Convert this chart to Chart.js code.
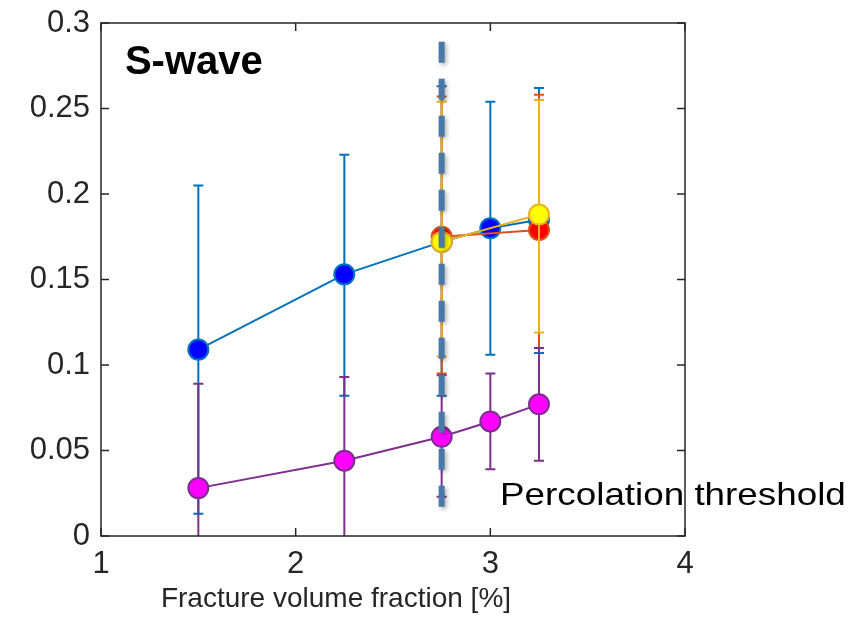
<!DOCTYPE html>
<html>
<head>
<meta charset="utf-8">
<script src="https://cdn.jsdelivr.net/npm/chart.js@4.4.0/dist/chart.umd.min.js"></script>
<style>
  html, body { margin: 0; padding: 0; background: #fff; }
</style>
</head>
<body>
<canvas id="chart" width="856" height="617"></canvas>
<script>
// x positions (fracture volume fraction, %)
const xAll = [1.5, 2.25, 2.75, 3, 3.25];
const xPerc = [2.75, 3.25];

// blue series
const blueMean = [0.109, 0.153, 0.172, 0.180, 0.185];
const blueLow = [0.013, 0.082, 0.082, 0.106, 0.107];
const blueHigh = [0.205, 0.223, 0.263, 0.254, 0.262];
// red series
const redMean = [0.175, 0.179];
const redLow = [0.095, 0.110];
const redHigh = [0.257, 0.258];
// yellow series
const yellowMean = [0.172, 0.188];
const yellowLow = [0.105, 0.119];
const yellowHigh = [0.254, 0.255];
// magenta series
const purpleMean = [0.028, 0.044, 0.058, 0.067, 0.077];
const purpleLow = [-0.033, -0.005, 0.023, 0.039, 0.044];
const purpleHigh = [0.089, 0.093, 0.094, 0.095, 0.110];

const xTicks = [1, 2, 3, 4];
const yTicks = [0, 0.05, 0.1, 0.15, 0.2, 0.25, 0.3];

// percolation threshold marker
const thresholdX = 2.75;
const thresholdTop = 0.289;
const thresholdBottom = 0.015;

const axisColor = '#262626';
Chart.defaults.font.family = "'Liberation Sans', Arial, Helvetica, sans-serif";

// build one errorbar series
function series(xs, ys, lo, hi, line, fill, order) {
    return {
        data: xs.map((x, i) => ({ x: x, y: ys[i] })),
        low: lo,
        high: hi,
        borderColor: line,
        backgroundColor: fill,
        borderWidth: 2,
        pointRadius: 10,
        pointBorderWidth: 2,
        pointBackgroundColor: fill,
        pointBorderColor: line,
        order: order,
        tension: 0
    };
}

// vertical error bars, drawn right under each dataset
const errorBars = {
    id: 'errorBars',
    beforeDatasetDraw(chart, args) {
        const ds = chart.data.datasets[args.index];
        const xs = chart.scales.x, ys = chart.scales.y;
        const area = chart.chartArea;
        const ctx = chart.ctx;
        ctx.save();
        ctx.beginPath();
        ctx.rect(area.left, area.top, area.right - area.left, area.bottom - area.top);
        ctx.clip();
        ctx.strokeStyle = ds.borderColor;
        ctx.lineWidth = 2;
        ds.data.forEach((p, i) => {
            const px = xs.getPixelForValue(p.x);
            const top = ys.getPixelForValue(ds.high[i]);
            const bot = ys.getPixelForValue(ds.low[i]);
            ctx.beginPath();
            ctx.moveTo(px, top); ctx.lineTo(px, bot);
            ctx.moveTo(px - 5, top); ctx.lineTo(px + 5, top);
            ctx.moveTo(px - 5, bot); ctx.lineTo(px + 5, bot);
            ctx.stroke();
        });
        ctx.restore();
    }
};

// dashed threshold line and text labels
const annotations = {
    id: 'annotations',
    afterDatasetsDraw(chart) {
        const ctx = chart.ctx;
        const xs = chart.scales.x, ys = chart.scales.y;
        const lx = xs.getPixelForValue(thresholdX);
        ctx.save();
        ctx.strokeStyle = '#4a78a8';
        ctx.lineWidth = 6;
        ctx.setLineDash([21, 16]);
        ctx.shadowColor = 'rgba(0,0,0,0.3)';
        ctx.shadowBlur = 4;
        ctx.shadowOffsetX = 2;
        ctx.shadowOffsetY = 2;
        ctx.beginPath();
        ctx.moveTo(lx, ys.getPixelForValue(thresholdTop));
        ctx.lineTo(lx, ys.getPixelForValue(thresholdBottom));
        ctx.stroke();
        ctx.restore();

        ctx.save();
        ctx.fillStyle = '#000';
        ctx.textBaseline = 'middle';
        ctx.textAlign = 'left';
        ctx.font = "bold 40px 'Liberation Sans', Arial, sans-serif";
        ctx.fillText('S-wave', xs.getPixelForValue(1.123), ys.getPixelForValue(0.2765));

        const px = xs.getPixelForValue(3.05), py = ys.getPixelForValue(0.0235);
        ctx.font = "32px 'Liberation Sans', Arial, sans-serif";
        ctx.translate(px, py);
        ctx.scale(1.15, 1);
        ctx.fillText('Percolation threshold', 0, 0);
        ctx.restore();

        ctx.save();
        ctx.fillStyle = axisColor;
        ctx.textAlign = 'center';
        ctx.textBaseline = 'alphabetic';
        ctx.font = "28px 'Liberation Sans', Arial, sans-serif";
        ctx.fillText('Fracture volume fraction [%]', 336, 607);
        ctx.restore();
    },
    // box with inward ticks, MATLAB style
    afterDraw(chart) {
        const ctx = chart.ctx;
        const a = chart.chartArea;
        const xs = chart.scales.x, ys = chart.scales.y;
        const len = 8;
        ctx.save();
        ctx.strokeStyle = axisColor;
        ctx.lineWidth = 1.5;
        ctx.strokeRect(a.left, a.top, a.right - a.left, a.bottom - a.top);
        ctx.beginPath();
        xs.ticks.forEach(t => {
            const x = xs.getPixelForValue(t.value);
            ctx.moveTo(x, a.bottom); ctx.lineTo(x, a.bottom - len);
            ctx.moveTo(x, a.top); ctx.lineTo(x, a.top + len);
        });
        ys.ticks.forEach(t => {
            const y = ys.getPixelForValue(t.value);
            ctx.moveTo(a.left, y); ctx.lineTo(a.left + len, y);
            ctx.moveTo(a.right, y); ctx.lineTo(a.right - len, y);
        });
        ctx.stroke();
        ctx.restore();
    }
};

const chart = new Chart(document.getElementById('chart'), {
    type: 'line',
    data: {
        datasets: [
            series(xAll, blueMean, blueLow, blueHigh, '#0072BD', '#0000FF', 4),
            series(xPerc, redMean, redLow, redHigh, '#D95319', '#FF0000', 3),
            series(xPerc, yellowMean, yellowLow, yellowHigh, '#EDB120', '#FFFF00', 2),
            series(xAll, purpleMean, purpleLow, purpleHigh, '#7E2F8E', '#FF00FF', 1)
        ]
    },
    options: {
        responsive: false,
        animation: false,
        layout: { padding: { top: 23, right: 171, left: 0, bottom: 0 } },
        plugins: { legend: { display: false }, tooltip: { enabled: false } },
        scales: {
            x: {
                type: 'linear',
                min: 1, max: 4,
                afterBuildTicks: s => { s.ticks = xTicks.map(v => ({ value: v })); },
                afterFit: s => { s.height = 81; s.paddingLeft = 0; s.paddingRight = 0; },
                grid: { display: false, drawTicks: false },
                border: { display: false },
                ticks: { color: axisColor, font: { size: 31 }, padding: 10, callback: v => String(v) }
            },
            y: {
                type: 'linear',
                min: 0, max: 0.3,
                afterBuildTicks: s => { s.ticks = yTicks.map(v => ({ value: v })); },
                afterFit: s => { s.width = 101; s.paddingTop = 0; s.paddingBottom = 0; },
                grid: { display: false, drawTicks: false },
                border: { display: false },
                ticks: { color: axisColor, font: { size: 31 }, padding: 11, callback: v => String(v) }
            }
        }
    },
    plugins: [errorBars, annotations]
});
</script>
</body>
</html>
